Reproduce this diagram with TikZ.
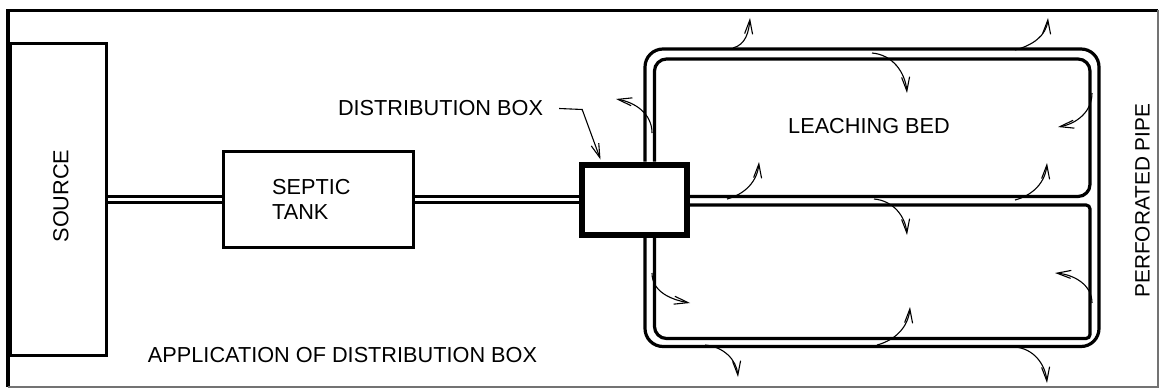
\documentclass[tikz,border=0pt]{standalone}
\usepackage{fontspec}
\setmainfont{Liberation Sans}
\usetikzlibrary{arrows.meta}

\begin{document}
\begin{tikzpicture}[x=1pt, y=1pt,
		box/.style={draw, line width=3pt, inner sep=0pt},
		pipe/.style={line width=3pt, double, double distance=3.5pt},
		hose/.style={line width=3.2pt},
		flow/.style={line width=1.1pt, -{Straight Barb[length=14pt,width=8pt]}},
		lbl/.style={font=\fontsize{21.7}{24.5}\selectfont, inner sep=0pt}]
			%%%%% START %%%%%
			
			\useasboundingbox (0,0) rectangle (1162,389);
			\draw[line width=3.5pt] (8,2) -- (8,378.5) -- (1158,378.5);
			\draw[line width=1.2pt, black!55] (8,2) -- (1158,2) -- (1158,378.5);
			
			\node[box, minimum width=96pt, minimum height=311.5pt] (src) at (58.5,189.5) {};
			\node[box, minimum width=190pt, minimum height=96.5pt] (tank) at (318.5,189.5) {};
			\node[box, line width=6pt, minimum width=105.5pt, minimum height=70pt] (dbox) at (634.25,189.5) {};
			
			\draw[pipe] (src.east) -- (tank.west);
			\draw[pipe] (tank.east) -- (dbox.west);
			
			\draw[hose, rounded corners=18pt] (645,0 |- dbox.north) -- (645,340) -- (1099,340) -- (1099,42.5) -- (645,42.5) -- (645,0 |- dbox.south);
			\draw[hose] (654.5,0 |- dbox.north) [rounded corners=12pt] -- (654.5,330) -- (1090,330) -- (1090,192.5) [rounded corners=4pt] -- (dbox.east |- 0,192.5);
			\draw[hose] (dbox.east |- 0,184) [rounded corners=4pt] -- (1090,184) -- (1090,50.5) [rounded corners=12pt] -- (654.5,50.5) -- (654.5,0 |- dbox.south);
			
			\node[lbl, rotate=90] (srclbl) at (61,193) {SOURCE};
			\node[lbl, anchor=west, align=left] (tanklbl) at (272,189.5) {SEPTIC\\TANK};
			\node[lbl] (dlbl) at (440.5,280.5) {DISTRIBUTION BOX};
			\node[lbl] (bedlbl) at (869,262.5) {LEACHING BED};
			\node[lbl, rotate=90, font=\fontsize{20.8}{24}\selectfont] (pipelbl) at (1142.5,188.4) {PERFORATED PIPE};
			\node[lbl] (title) at (342.5,34) {APPLICATION OF DISTRIBUTION BOX};
			
			\draw[flow] ([xshift=16pt]dlbl.east) -- ++(23,-1) -- ([xshift=22pt,yshift=2pt]dbox.north west);
			
			\draw[flow] (733,341) to[out=15,in=-95] (750,371);
			\draw[flow] (1015,339) to[out=15,in=-95] (1048,371);
			\draw[flow] (872,336) to[out=-5,in=95] (907,296);
			\draw[flow] (1092,296) to[out=-90,in=10] (1058,262);
			\draw[flow] (727,190) to[out=15,in=-95] (759,227);
			\draw[flow] (1015,189) to[out=15,in=-95] (1047,226);
			\draw[flow] (874,190) to[out=-5,in=95] (907,154);
			\draw[flow] (1092,86) to[out=90,in=-5] (1055,116);
			\draw[flow] (877,44) to[out=15,in=-95] (910,82);
			\draw[flow] (1015,42) to[out=-5,in=95] (1047,6);
			\draw[flow] (705,44) to[out=-5,in=95] (738,12);
			\draw[flow] (652,116) to[out=-90,in=170] (690,86);
			\draw[flow] (652,256) to[out=90,in=-10] (616,290);
			
			%%%%% END %%%%%
		\end{tikzpicture}
\end{document}
